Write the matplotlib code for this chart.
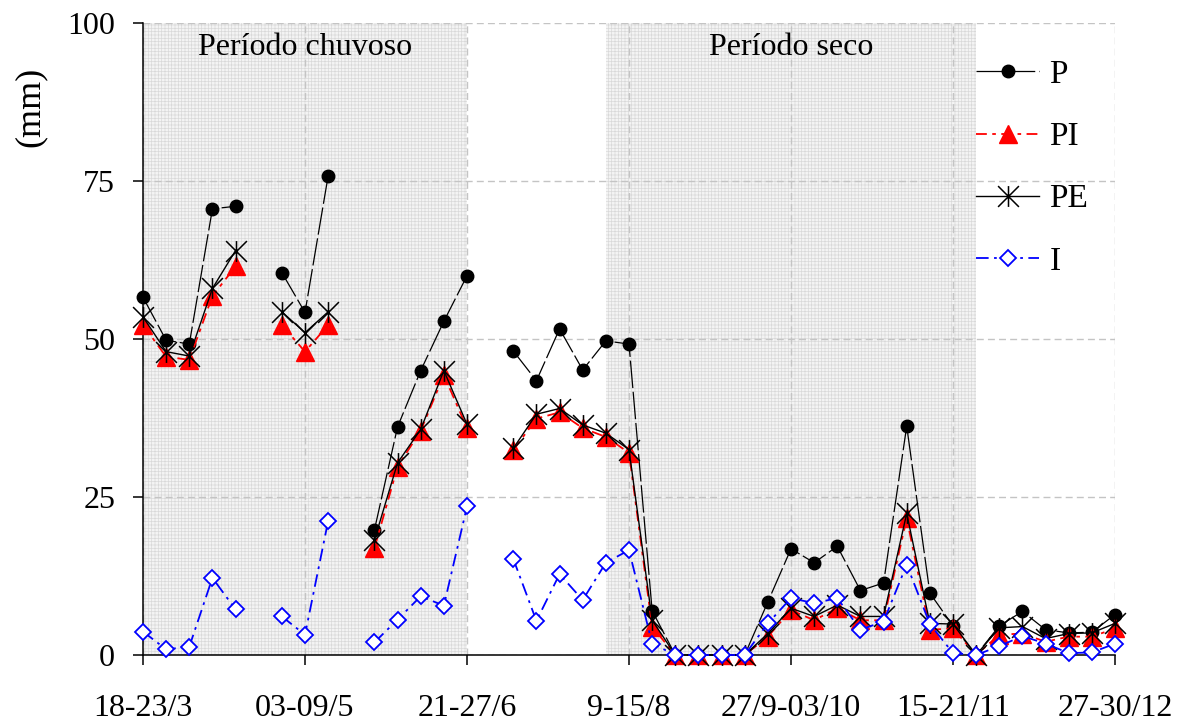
import numpy as np
import matplotlib.pyplot as plt
from matplotlib.path import Path

plt.rcParams['font.family'] = 'serif'
plt.rcParams['font.serif'] = ['Liberation Serif', 'DejaVu Serif']
plt.rcParams['hatch.linewidth'] = 0.5

nan = np.nan

# Data (mm), one value per week, gaps where nothing was measured
labels = ['18-23/3', '03-09/5', '21-27/6', '9-15/8', '27/9-03/10', '15-21/11', '27-30/12']
P = [56.6, 49.8, 49.2, 70.6, 71.0, nan, 60.5, 54.2, 75.8, nan,
     19.8, 36.1, 45.0, 52.8, 60.0, nan, 48.1, 43.4, 51.6, 45.1,
     49.7, 49.2, 7.0, 0, 0, 0, 0, 8.4, 16.8, 14.6,
     17.2, 10.2, 11.4, 36.2, 9.8, 4.6, 0, 4.6, 6.9, 4.0,
     3.5, 3.6, 6.4]
PI = [52.2, 47.2, 46.7, 56.8, 61.5, nan, 52.2, 48.0, 52.2, nan,
      16.9, 29.8, 35.5, 44.3, 35.9, nan, 32.4, 37.4, 38.4, 35.9,
      34.5, 32.0, 4.5, 0, 0, 0, 0, 2.9, 7.1, 5.5,
      7.4, 5.5, 5.5, 21.6, 4.0, 4.2, 0, 3.2, 3.4, 2.1,
      2.9, 2.9, 4.2]
PE = [53.5, 48.0, 47.3, 58.0, 64.0, nan, 54.3, 51.0, 54.3, nan,
      18.2, 30.4, 35.7, 45.0, 36.5, nan, 32.7, 38.1, 39.0, 36.4,
      35.1, 32.5, 5.5, 0, 0, 0, 0, 3.4, 7.4, 6.1,
      7.9, 6.1, 6.1, 22.4, 5.0, 4.9, 0, 4.3, 4.5, 2.6,
      3.4, 3.5, 5.0]
I = [3.7, 0.9, 1.3, 12.2, 7.2, nan, 6.1, 3.2, 21.2, nan,
     2.0, 5.6, 9.3, 7.8, 23.5, nan, 15.2, 5.4, 12.8, 8.7,
     14.6, 16.6, 1.8, 0, 0, 0, 0, 5.0, 9.0, 8.2,
     9.0, 4.0, 5.3, 14.3, 4.9, 0.3, 0, 1.4, 3.0, 1.8,
     0.3, 0.4, 1.8]

# rainy / dry season ranges (week index)
chuvoso = (0, 14)
seco = (20, 36)

x = np.arange(len(P))

# star marker like excel: X plus vertical bar
star = Path([(-1, -1), (1, 1), (-1, 1), (1, -1), (0, -1), (0, 1)],
            [Path.MOVETO, Path.LINETO, Path.MOVETO, Path.LINETO, Path.MOVETO, Path.LINETO])

fig = plt.figure(figsize=(11.79, 7.22), dpi=100)
ax = fig.add_axes([143/1179, 1-655/722, (1115-143)/1179, (655-23)/722])

# shaded periods
for a, b in (chuvoso, seco):
    ax.axvspan(a, b, facecolor='#f4f4f4', edgecolor='#d9d9d9', hatch='+++++', linewidth=0, zorder=0)

ax.plot(x, P, color='black', lw=0.9, ls=(0, (22, 3)), marker='o', ms=9,
        mfc='black', mec='black', label='P', clip_on=False, zorder=3)
ax.plot(x, PI, color='red', lw=1.3, ls=(0, (6, 3, 2, 3)), marker='^', ms=13,
        mfc='red', mec='red', label='PI', clip_on=False, zorder=4)
ax.plot(x, PE, color='black', lw=1.0, marker=star, ms=15, mew=1.1,
        mec='black', label='PE', clip_on=False, zorder=5)
ax.plot(x, I, color='blue', lw=1.3, ls=(0, (7, 3, 1.5, 3)), marker='D', ms=8.3,
        mfc='white', mec='blue', mew=1.3, label='I', clip_on=False, zorder=6)

ax.set_xlim(0, 42)
ax.set_ylim(0, 100)
ax.set_xticks(x[::7])
ax.set_xticklabels(labels)
ax.set_yticks([0, 25, 50, 75, 100])

ax.grid(True, ls=(0, (5, 3)), color='#c4c4c4', lw=1)
ax.set_axisbelow(True)
for s in ['top', 'right']:
    ax.spines[s].set_visible(False)
for s in ['left', 'bottom']:
    ax.spines[s].set_linewidth(1.1)
    ax.spines[s].set_zorder(2)

ax.tick_params(axis='both', direction='out', length=7, width=1.1, labelsize=23)
ax.tick_params(axis='y', pad=13)
ax.tick_params(axis='x', pad=21)

ax.set_ylabel('(mm)', fontsize=26)
ax.yaxis.set_label_coords(-0.099, 0.867)

ax.text(7, 96.2, 'Período chuvoso', ha='center', va='center', fontsize=23)
ax.text(28, 96.2, 'Período seco', ha='center', va='center', fontsize=23)

ax.legend(loc='upper left', bbox_to_anchor=(0.857, 0.942), frameon=False,
          fontsize=24, numpoints=1, handlelength=1.9, handletextpad=0.3,
          labelspacing=0.95, borderpad=0, borderaxespad=0)

fig.savefig('out.png', dpi=100)
